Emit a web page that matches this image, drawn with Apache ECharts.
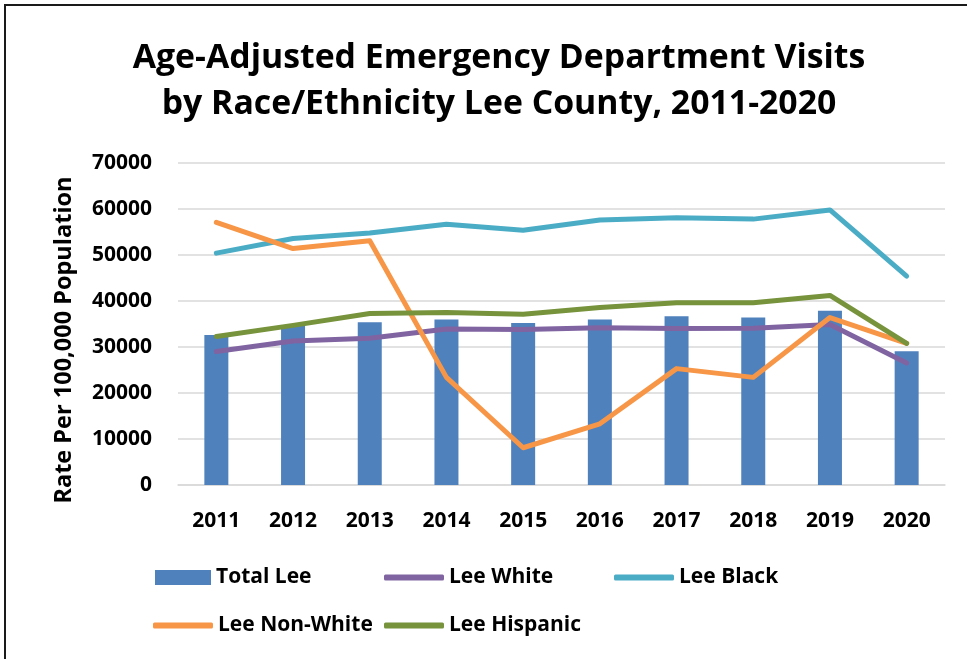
<!DOCTYPE html>
<html>
<head>
<meta charset="utf-8">
<script src="https://cdn.jsdelivr.net/npm/echarts@6/dist/echarts.min.js"></script>
<style>
html,body{margin:0;padding:0;background:#fff;}
#chart{width:967px;height:659px;}
</style>
</head>
<body>
<div id="chart"></div>
<script>
const years = ['2011','2012','2013','2014','2015','2016','2017','2018','2019','2020'];
const totalLee = [32600, 34800, 35400, 36000, 35200, 36000, 36700, 36400, 37900, 29100];
const leeWhite = [29000, 31300, 31900, 33900, 33800, 34200, 34000, 34100, 34900, 26500];
const leeBlack = [50400, 53600, 54800, 56700, 55400, 57600, 58100, 57800, 59800, 45400];
const leeNonWhite = [57100, 51400, 53100, 23400, 8100, 13300, 25300, 23400, 36400, 30800];
const leeHispanic = [32300, 34700, 37300, 37500, 37100, 38600, 39600, 39600, 41200, 30800];
const yTicks = [0, 10000, 20000, 30000, 40000, 50000, 60000, 70000];
const yAxisTitle = 'Rate Per 100,000 Population';

const FONT = 'Open Sans';
const chart = echarts.init(document.getElementById('chart'), null, {renderer: 'canvas'});

function lineSeries(name, data, color) {
  return {
    name: name, type: 'line', data: data, symbol: 'none', smooth: false,
    lineStyle: {color: color, width: 5, cap: 'round', join: 'round'},
    itemStyle: {color: color}, z: 3
  };
}
const legendText = {fontFamily: FONT, fontWeight: 'bold', fontSize: 21, color: '#000'};
function legend(name, left, top, lineIcon) {
  return {
    data: [name], left: left, top: top, padding: 0, itemGap: 0,
    itemWidth: lineIcon ? 60 : 56, itemHeight: lineIcon ? 6 : 15,
    icon: lineIcon ? 'roundRect' : 'rect',
    textStyle: legendText, selectedMode: false
  };
}

chart.setOption({
  animation: false,
  backgroundColor: '#fff',
  title: {
    text: 'Age-Adjusted Emergency Department Visits\nby Race/Ethnicity Lee County, 2011-2020',
    left: 494, top: 30, textAlign: 'center',
    textStyle: {fontFamily: FONT, fontWeight: 'bold', fontSize: 33.8, lineHeight: 46, color: '#000'}
  },
  graphic: [{
    type: 'rect', shape: {x: 5, y: 5, width: 1100, height: 1100},
    style: {fill: 'none', stroke: '#1a1a1a', lineWidth: 2}, silent: true
  }, {
    type: 'text', x: 64, y: 340, rotation: Math.PI / 2,
    style: {text: yAxisTitle, fontFamily: FONT, fontWeight: 'bold', fontSize: 23.5, fill: '#000',
      align: 'center', verticalAlign: 'middle'}
  }],
  grid: {left: 178, right: 22, top: 163, bottom: 174},
  legend: [
    legend('Total Lee', 155, 567, false),
    legend('Lee White', 384, 567, true),
    legend('Lee Black', 614, 567, true),
    legend('Lee Non-White', 153, 615, true),
    legend('Lee Hispanic', 384, 615, true)
  ],
  xAxis: {
    type: 'category', data: years,
    axisLine: {show: true, lineStyle: {color: '#d9d9d9', width: 1.5}},
    axisTick: {show: false},
    axisLabel: {fontFamily: FONT, fontWeight: 'bold', fontSize: 21, color: '#000', margin: 26}
  },
  yAxis: {
    type: 'value', min: yTicks[0], max: yTicks[yTicks.length - 1], interval: 10000,
    axisLine: {show: false}, axisTick: {show: false},
    splitLine: {lineStyle: {color: '#d9d9d9', width: 1.5}},
    axisLabel: {fontFamily: FONT, fontWeight: 'bold', fontSize: 21, color: '#000', margin: 26,
      formatter: function (v) { return String(v); }}
  },
  series: [
    {name: 'Total Lee', type: 'bar', data: totalLee, barWidth: 24, itemStyle: {color: '#4F81BD'}, z: 2},
    lineSeries('Lee White', leeWhite, '#8064A2'),
    lineSeries('Lee Black', leeBlack, '#4BACC6'),
    lineSeries('Lee Non-White', leeNonWhite, '#F79646'),
    lineSeries('Lee Hispanic', leeHispanic, '#77933C')
  ]
});
</script>
</body>
</html>
